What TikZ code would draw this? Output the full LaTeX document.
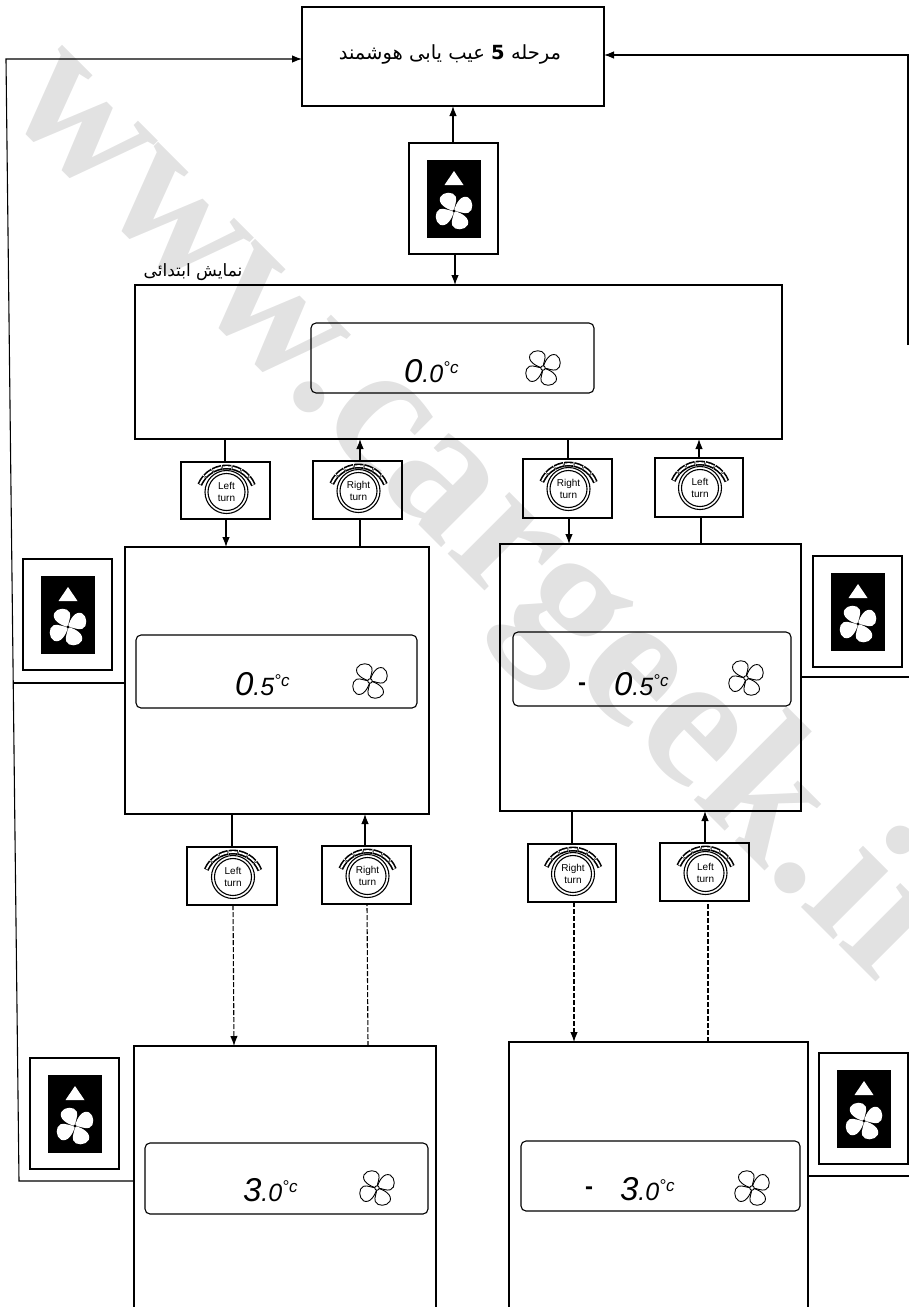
\documentclass[tikz,border=0pt]{standalone}
\usepackage{fontspec}
\setmainfont{Liberation Sans}
\newfontfamily\arabicfont[Script=Arabic]{DejaVu Sans}
\newfontfamily\wmfont{Liberation Serif}
\TeXXeTstate=1
\usetikzlibrary{arrows.meta,calc}
\definecolor{wm}{HTML}{E2E2E2}
\tikzset{
  every node/.style={inner sep=0pt,outer sep=0pt},
  ln/.style={line width=1.1pt,black},
  frame/.style={draw=black,line width=1.2pt,fill=none},
  lcd/.style={draw=black,line width=1.1pt,rounded corners=5pt},
  blk/.style={fill=black},
  arr/.style={ln,-{Latex[length=10pt,width=7.5pt]}},
  dsh/.style={ln,dash pattern=on 5pt off 2pt},
  darr/.style={ln,dash pattern=on 5pt off 2pt,-{Latex[length=10pt,width=7.5pt]}},
  fanw/.pic={
    \foreach \r in {0,90,180,270}{
      \fill[white,rotate=\r] (0,0) .. controls (-.45,-.1) and (-.92,-.42) .. (-.76,-.78)
        .. controls (-.6,-1.08) and (-.02,-1.1) .. (.1,-.8)
        .. controls (.18,-.55) and (.02,-.33) .. (0,0);
    }
    \fill[black] (0,0) circle (.09);
  },
  fanl/.pic={
    \foreach \r in {0,90,180,270}{
      \draw[line width=.9pt,rotate=\r] (0,0) .. controls (-.45,-.1) and (-.92,-.42) .. (-.76,-.78)
        .. controls (-.6,-1.08) and (-.02,-1.1) .. (.1,-.8)
        .. controls (.18,-.55) and (.02,-.33) .. (0,0);
    }
    \draw[line width=.9pt,fill=white] (0,0) circle (.13);
  },
}
\newcommand\mkbox[6]{%
  \pgfmathsetmacro\bw{(#5)-(#3)}\pgfmathsetmacro\bh{(#6)-(#4)}%
  \node[#1,minimum width=\bw pt,minimum height=\bh pt] (#2) at ({((#3)+(#5))/2},{((#4)+(#6))/2}) {};}
% icon: name, left, top
\newcommand\fanicon[3]{%
  \mkbox{frame}{#1}{#2}{#3}{#2+89}{#3+111}%
  \mkbox{blk}{#1k}{#2+18}{#3+17}{#2+72}{#3+95}%
  \fill[white] (#2+45,#3+28) -- (#2+35.5,#3+42) -- (#2+54.5,#3+42) -- cycle;
  \pic[scale=18] at (#2+45,#3+68) {fanw};}
% knob: name,left,top,right,bottom,text
\newcommand\knob[6]{%
  \mkbox{frame}{#1}{#2}{#3}{#4}{#5}%
  \begin{scope}[shift={({(#2+#4)/2+1},#3+30)},yscale=-1]
    \draw[line width=1.1pt] (0,0) circle (21.5);
    \draw[line width=1.1pt] (0,0) circle (18.5);
    \foreach \a in {22,41.5,61,80.5,100,119.5,139}{
      \draw[line width=5pt] ($(0,-4)+(\a:29)$) arc[start angle=\a,end angle=\a+18,radius=29];
      \draw[line width=1.7pt,white] ($(0,-4)+(\a+1:29)$) arc[start angle=\a+1,end angle=\a+17,radius=29];
    }
  \end{scope}
  \node[font=\fontsize{10}{12}\selectfont,align=center] (#1t) at ({(#2+#4)/2+1},#3+30) {#6};}
% LCD reading: name,x,baseline,digit,digit
\newcommand\lcdread[5]{%
  \node[anchor=base west,font=\itshape\fontsize{33}{33}\selectfont] (#1) at (#2,#3)
   {#4\fontsize{25}{25}\selectfont.#5\raisebox{9pt}{\fontsize{17}{17}\selectfont °c}};}
\begin{document}
\begin{tikzpicture}[x=1pt,y=-1pt]
\useasboundingbox (0,0) rectangle (909,1307);
% watermark
\node[rotate=-45,anchor=base west,text=wm,font=\wmfont\bfseries\fontsize{190}{190}\selectfont] (wmark) at (0,106) {www.cargeek.ir};

% main boxes
\mkbox{frame}{top}{302}{7}{604}{106}
\node[font=\fontsize{19.5}{22}\selectfont] (toptxt) at (450,54) {\arabicfont\beginR مرحله \beginL\textbf{5}\endL{} عیب یابی هوشمند\endR};
\node[font=\fontsize{17}{19}\selectfont] (init) at (193,272) {\arabicfont\beginR نمایش ابتدائی\endR};
\mkbox{frame}{bz}{135}{285}{782}{439}
\mkbox{frame}{ba}{125}{547}{429}{814}
\mkbox{frame}{bb}{500}{544}{801}{811}
\mkbox{frame}{bc}{134}{1046}{436}{1315}
\mkbox{frame}{bd}{509}{1042}{808}{1315}
% LCD panels
\mkbox{lcd}{lz}{311}{323}{594}{393}
\mkbox{lcd}{la}{136}{635}{417}{708}
\mkbox{lcd}{lb}{513}{632}{791}{706}
\mkbox{lcd}{lc}{145}{1143}{428}{1214}
\mkbox{lcd}{ld}{521}{1141}{800}{1211}
\lcdread{rz}{404}{382}{0}{0}
\lcdread{ra}{235}{695}{0}{5}
\lcdread{rb}{614}{695}{0}{5}
\lcdread{rc}{243}{1201}{3}{0}
\lcdread{rd}{620}{1200}{3}{0}
\node[font=\bfseries\fontsize{24}{24}\selectfont] (mb) at (582,687) {-};
\node[font=\bfseries\fontsize{24}{24}\selectfont] (md) at (589,1191) {-};
\pic[scale=17] at (543,368) {fanl};
\pic[scale=17] at (370,681) {fanl};
\pic[scale=17] at (746,678) {fanl};
\pic[scale=17] at (377,1188) {fanl};
\pic[scale=17] at (752,1188) {fanl};
% fan icons
\fanicon{ic}{409}{143}
\fanicon{il}{23}{559}
\fanicon{ir}{813}{556}
\fanicon{jl}{30}{1058}
\fanicon{jr}{819}{1053}
% knobs
\knob{k1}{181}{462}{270}{519}{Left\\turn}
\knob{k2}{313}{461}{402}{519}{Right\\turn}
\knob{k3}{523}{459}{612}{518}{Right\\turn}
\knob{k4}{655}{458}{743}{517}{Left\\turn}
\knob{k5}{187}{847}{277}{905}{Left\\turn}
\knob{k6}{322}{846}{411}{904}{Right\\turn}
\knob{k7}{528}{844}{616}{902}{Right\\turn}
\knob{k8}{660}{843}{749}{901}{Left\\turn}
% connectors
\draw[arr] (453,0 |- ic.north) -- (453,0 |- top.south);
\draw[arr] (455,0 |- ic.south) -- (455,0 |- bz.north);
\draw[ln] (225,0 |- bz.south) -- (225,0 |- k1.north);
\draw[arr] (226,0 |- k1.south) -- (226,0 |- ba.north);
\draw[ln] (360,0 |- ba.north) -- (360,0 |- k2.south);
\draw[arr] (360,0 |- k2.north) -- (360,0 |- bz.south);
\draw[ln] (568,0 |- bz.south) -- (568,0 |- k3.north);
\draw[arr] (569,0 |- k3.south) -- (569,0 |- bb.north);
\draw[ln] (701,0 |- bb.north) -- (701,0 |- k4.south);
\draw[arr] (699,0 |- k4.north) -- (699,0 |- bz.south);
\draw[ln] (232,0 |- ba.south) -- (232,0 |- k5.north);
\draw[darr] (233,0 |- k5.south) -- (234,0 |- bc.north);
\draw[dsh] (368,0 |- bc.north) -- (367,0 |- k6.south);
\draw[arr] (365,0 |- k6.north) -- (365,0 |- ba.south);
\draw[ln] (572,0 |- bb.south) -- (572,0 |- k7.north);
\draw[darr] (574,0 |- k7.south) -- (574,0 |- bd.north);
\draw[dsh] (708,0 |- bd.north) -- (708,0 |- k8.south);
\draw[arr] (705,0 |- k8.north) -- (705,0 |- bb.south);
% side lines
\coordinate (c1) at (19,1181);
\coordinate (c2) at (6,59);
\coordinate (c3) at (13,683);
\coordinate (c4) at (908,345);
\coordinate (c5) at (908,55);
\coordinate (c6) at (909,677);
\coordinate (c7) at (909,1176);
\draw[arr] (bc.west |- c1) -- (c1) -- (c2) -- (top.west |- c2);
\draw[ln] (ba.west |- c3) -- (c3);
\draw[arr] (c4) -- (c5) -- (top.east |- c5);
\draw[ln] (bb.east |- c6) -- (c6);
\draw[ln] (bd.east |- c7) -- (c7);
\end{tikzpicture}
\end{document}
